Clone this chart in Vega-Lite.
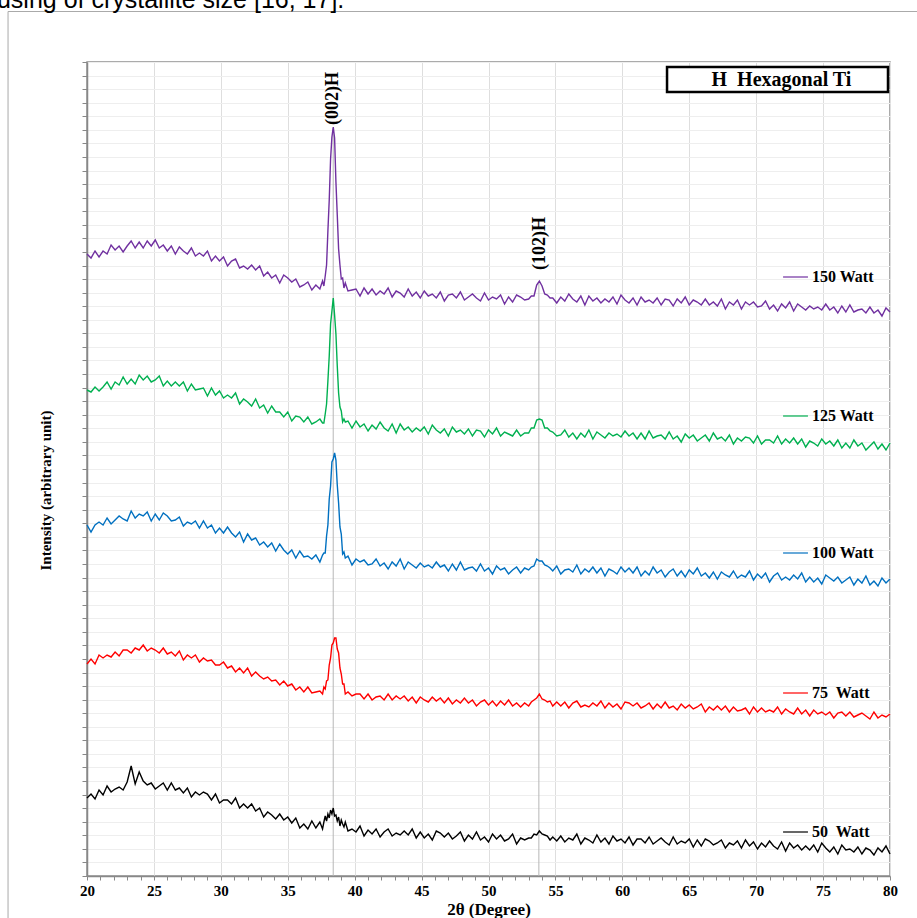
{
"$schema": "https://vega.github.io/schema/vega-lite/v6.json",
"width": 803,
"height": 814,
"autosize": {"type": "none"},
"padding": {"left": 87, "top": 62, "right": 27, "bottom": 42},
"background": "white",
"config": {"view": {"stroke": "#909090", "strokeWidth": 1.5}},
"resolve": {"axis": {"x": "independent", "y": "independent"}},
"layer": [
{
"data": {"values": [
{"fx1": 14.1, "fx2": 14.1, "fy1": -200, "fy2": 864.5},
{"fx1": 14.1, "fx2": 100, "fy1": 864.5, "fy2": 864.5}
]},
"mark": {"type": "rule", "color": "#aaaaaa", "strokeWidth": 1},
"encoding": {
"x": {"field": "fx1", "type": "quantitative", "axis": null},
"x2": {"field": "fx2"},
"y": {"field": "fy1", "type": "quantitative", "axis": null},
"y2": {"field": "fy2"}
}
},
{
"data": {"values": [{"t": "using of crystallite size [16, 17].", "tx": 13.27, "ty": 868.5}]},
"mark": {"type": "text", "align": "left", "baseline": "alphabetic", "font": "Liberation Sans", "fontSize": 25, "color": "#000000"},
"encoding": {
"x": {"field": "tx", "type": "quantitative", "axis": null},
"y": {"field": "ty", "type": "quantitative", "axis": null},
"text": {"field": "t", "type": "nominal"}
}
},
{
"data": {"values": [{"pos": 38.4, "bot": 0, "top": 749}, {"pos": 53.76, "bot": 0, "top": 594}]},
"mark": {"type": "rule", "color": "#b4b4b4", "strokeWidth": 1.2, "opacity": 0.8},
"encoding": {
"x": {"field": "pos", "type": "quantitative", "axis": null},
"y": {"field": "bot", "type": "quantitative", "axis": null},
"y2": {"field": "top"}
}
},
{
"data": {"values": [
{"x":20.0,"w150":622,"w125":486,"w100":351,"w75":212,"w50":78},
{"x":20.3,"w150":618,"w125":484,"w100":344,"w75":217,"w50":82},
{"x":20.6,"w150":625,"w125":489,"w100":351,"w75":212,"w50":77},
{"x":20.9,"w150":619,"w125":485,"w100":354,"w75":221,"w50":86},
{"x":21.2,"w150":625,"w125":489,"w100":351,"w75":218,"w50":81},
{"x":21.5,"w150":622,"w125":494,"w100":358,"w75":221,"w50":90},
{"x":21.8,"w150":631,"w125":487,"w100":352,"w75":219,"w50":84},
{"x":22.1,"w150":626,"w125":494,"w100":356,"w75":224,"w50":87},
{"x":22.4,"w150":630,"w125":491,"w100":360,"w75":220,"w50":89},
{"x":22.7,"w150":624,"w125":499,"w100":357,"w75":226,"w50":86},
{"x":23.0,"w150":630,"w125":492,"w100":355,"w75":226,"w50":94},
{"x":23.3,"w150":635,"w125":497,"w100":365,"w75":223,"w50":110},
{"x":23.6,"w150":628,"w125":492,"w100":358,"w75":228,"w50":92},
{"x":23.9,"w150":634,"w125":501,"w100":362,"w75":226,"w50":104},
{"x":24.2,"w150":628,"w125":496,"w100":360,"w75":231,"w50":95},
{"x":24.5,"w150":635,"w125":500,"w100":364,"w75":225,"w50":91},
{"x":24.8,"w150":630,"w125":494,"w100":355,"w75":228,"w50":93},
{"x":25.1,"w150":636,"w125":496,"w100":362,"w75":226,"w50":87},
{"x":25.4,"w150":628,"w125":500,"w100":356,"w75":223,"w50":90},
{"x":25.7,"w150":631,"w125":490,"w100":363,"w75":228,"w50":93},
{"x":26.0,"w150":625,"w125":495,"w100":360,"w75":222,"w50":86},
{"x":26.3,"w150":630,"w125":490,"w100":355,"w75":224,"w50":93},
{"x":26.6,"w150":622,"w125":494,"w100":356,"w75":220,"w50":86},
{"x":26.9,"w150":629,"w125":490,"w100":359,"w75":225,"w50":88},
{"x":27.2,"w150":625,"w125":494,"w100":350,"w75":216,"w50":83},
{"x":27.5,"w150":622,"w125":485,"w100":354,"w75":221,"w50":88},
{"x":27.8,"w150":628,"w125":492,"w100":352,"w75":218,"w50":79},
{"x":28.1,"w150":620,"w125":486,"w100":355,"w75":221,"w50":84},
{"x":28.4,"w150":623,"w125":487,"w100":348,"w75":214,"w50":81},
{"x":28.7,"w150":620,"w125":488,"w100":355,"w75":218,"w50":84},
{"x":29.0,"w150":625,"w125":480,"w100":348,"w75":215,"w50":82},
{"x":29.3,"w150":615,"w125":488,"w100":351,"w75":216,"w50":76},
{"x":29.6,"w150":620,"w125":481,"w100":343,"w75":211,"w50":82},
{"x":29.9,"w150":615,"w125":485,"w100":348,"w75":211,"w50":73},
{"x":30.2,"w150":619,"w125":478,"w100":343,"w75":214,"w50":76},
{"x":30.5,"w150":610,"w125":481,"w100":349,"w75":208,"w50":76},
{"x":30.8,"w150":615,"w125":478,"w100":343,"w75":210,"w50":72},
{"x":31.1,"w150":617,"w125":483,"w100":339,"w75":204,"w50":78},
{"x":31.4,"w150":608,"w125":472,"w100":344,"w75":208,"w50":68},
{"x":31.7,"w150":610,"w125":477,"w100":334,"w75":203,"w50":72},
{"x":32.0,"w150":607,"w125":474,"w100":342,"w75":208,"w50":68},
{"x":32.3,"w150":611,"w125":470,"w100":336,"w75":200,"w50":72},
{"x":32.6,"w150":606,"w125":477,"w100":338,"w75":204,"w50":65},
{"x":32.9,"w150":610,"w125":468,"w100":331,"w75":200,"w50":68},
{"x":33.2,"w150":600,"w125":471,"w100":334,"w75":197,"w50":59},
{"x":33.5,"w150":604,"w125":463,"w100":329,"w75":199,"w50":64},
{"x":33.8,"w150":598,"w125":470,"w100":333,"w75":195,"w50":61},
{"x":34.1,"w150":601,"w125":464,"w100":325,"w75":196,"w50":57},
{"x":34.4,"w150":593,"w125":464,"w100":332,"w75":191,"w50":62},
{"x":34.7,"w150":601,"w125":459,"w100":326,"w75":195,"w50":56},
{"x":35.0,"w150":598,"w125":464,"w100":322,"w75":190,"w50":59},
{"x":35.3,"w150":594,"w125":455,"w100":326,"w75":192,"w50":53},
{"x":35.6,"w150":597,"w125":460,"w100":318,"w75":186,"w50":58},
{"x":35.9,"w150":589,"w125":459,"w100":325,"w75":189,"w50":48},
{"x":36.2,"w150":591,"w125":454,"w100":319,"w75":184,"w50":52},
{"x":36.5,"w150":594,"w125":459,"w100":320,"w75":189,"w50":47},
{"x":36.8,"w150":586,"w125":452,"w100":317,"w75":183,"w50":55},
{"x":37.1,"w150":591,"w125":454,"w100":321,"w75":184,"w50":48},
{"x":37.4,"w150":587,"w125":457,"w100":314,"w75":185,"w50":54},
{"x":37.6,"w150":595,"w125":453,"w100":321,"w75":182,"w50":47},
{"x":37.7,"w150":590,"w125":453,"w100":323,"w75":189,"w50":54},
{"x":37.8,"w150":600,"w125":462,"w100":323,"w75":187,"w50":60},
{"x":37.9,"w150":611,"w125":472,"w100":340,"w75":195,"w50":55},
{"x":38.0,"w150":645,"w125":495,"w100":351,"w75":196,"w50":62},
{"x":38.1,"w150":676,"w125":520,"w100":377,"w75":211,"w50":58},
{"x":38.2,"w150":717,"w125":552,"w100":390,"w75":218,"w50":66},
{"x":38.3,"w150":739,"w125":565,"w100":414,"w75":231,"w50":62},
{"x":38.4,"w150":749,"w125":578,"w100":417,"w75":233,"w50":68},
{"x":38.5,"w150":738,"w125":561,"w100":423,"w75":238,"w50":60},
{"x":38.6,"w150":694,"w125":542,"w100":416,"w75":238,"w50":61},
{"x":38.7,"w150":661,"w125":510,"w100":391,"w75":227,"w50":55},
{"x":38.8,"w150":627,"w125":483,"w100":373,"w75":223,"w50":59},
{"x":38.9,"w150":611,"w125":469,"w100":349,"w75":208,"w50":50},
{"x":39.0,"w150":597,"w125":465,"w100":342,"w75":202,"w50":56},
{"x":39.1,"w150":598,"w125":454,"w100":322,"w75":192,"w50":52},
{"x":39.2,"w150":588,"w125":457,"w100":324,"w75":192,"w50":49},
{"x":39.3,"w150":593,"w125":454,"w100":318,"w75":182,"w50":54},
{"x":39.5,"w150":585,"w125":455,"w100":320,"w75":184,"w50":45},
{"x":39.8,"w150":586,"w125":448,"w100":311,"w75":180,"w50":47},
{"x":40.1,"w150":587,"w125":455,"w100":317,"w75":182,"w50":44},
{"x":40.4,"w150":580,"w125":449,"w100":314,"w75":182,"w50":50},
{"x":40.7,"w150":588,"w125":452,"w100":316,"w75":177,"w50":40},
{"x":41.0,"w150":582,"w125":445,"w100":311,"w75":182,"w50":46},
{"x":41.3,"w150":587,"w125":451,"w100":312,"w75":176,"w50":42},
{"x":41.6,"w150":581,"w125":447,"w100":317,"w75":179,"w50":47},
{"x":41.9,"w150":585,"w125":454,"w100":310,"w75":180,"w50":39},
{"x":42.2,"w150":582,"w125":448,"w100":313,"w75":176,"w50":44},
{"x":42.5,"w150":588,"w125":445,"w100":307,"w75":182,"w50":47},
{"x":42.8,"w150":579,"w125":452,"w100":314,"w75":176,"w50":40},
{"x":43.1,"w150":585,"w125":443,"w100":310,"w75":180,"w50":43},
{"x":43.4,"w150":583,"w125":452,"w100":317,"w75":177,"w50":41},
{"x":43.7,"w150":579,"w125":446,"w100":307,"w75":180,"w50":45},
{"x":44.0,"w150":587,"w125":449,"w100":314,"w75":175,"w50":41},
{"x":44.3,"w150":580,"w125":444,"w100":311,"w75":179,"w50":47},
{"x":44.6,"w150":584,"w125":448,"w100":308,"w75":173,"w50":38},
{"x":44.9,"w150":578,"w125":445,"w100":313,"w75":179,"w50":44},
{"x":45.2,"w150":585,"w125":449,"w100":309,"w75":176,"w50":38},
{"x":45.5,"w150":580,"w125":442,"w100":311,"w75":174,"w50":42},
{"x":45.8,"w150":582,"w125":451,"w100":308,"w75":179,"w50":36},
{"x":46.1,"w150":578,"w125":446,"w100":314,"w75":175,"w50":45},
{"x":46.4,"w150":584,"w125":443,"w100":309,"w75":178,"w50":43},
{"x":46.7,"w150":575,"w125":447,"w100":311,"w75":173,"w50":39},
{"x":47.0,"w150":581,"w125":440,"w100":305,"w75":178,"w50":43},
{"x":47.3,"w150":582,"w125":449,"w100":312,"w75":172,"w50":37},
{"x":47.6,"w150":578,"w125":444,"w100":306,"w75":176,"w50":40},
{"x":47.9,"w150":584,"w125":446,"w100":314,"w75":173,"w50":44},
{"x":48.2,"w150":576,"w125":442,"w100":306,"w75":178,"w50":35},
{"x":48.5,"w150":579,"w125":447,"w100":308,"w75":173,"w50":41},
{"x":48.8,"w150":582,"w125":440,"w100":309,"w75":176,"w50":37},
{"x":49.1,"w150":578,"w125":446,"w100":305,"w75":170,"w50":44},
{"x":49.4,"w150":575,"w125":445,"w100":312,"w75":174,"w50":36},
{"x":49.7,"w150":583,"w125":439,"w100":305,"w75":176,"w50":39},
{"x":50.0,"w150":576,"w125":446,"w100":308,"w75":171,"w50":34},
{"x":50.3,"w150":579,"w125":442,"w100":302,"w75":175,"w50":42},
{"x":50.6,"w150":577,"w125":448,"w100":310,"w75":170,"w50":37},
{"x":50.9,"w150":581,"w125":440,"w100":306,"w75":175,"w50":41},
{"x":51.2,"w150":572,"w125":444,"w100":308,"w75":171,"w50":35},
{"x":51.5,"w150":579,"w125":442,"w100":302,"w75":176,"w50":37},
{"x":51.8,"w150":574,"w125":440,"w100":306,"w75":170,"w50":42},
{"x":52.1,"w150":581,"w125":446,"w100":309,"w75":173,"w50":32},
{"x":52.4,"w150":579,"w125":440,"w100":303,"w75":169,"w50":38},
{"x":52.7,"w150":576,"w125":443,"w100":308,"w75":173,"w50":36},
{"x":53.0,"w150":577,"w125":443,"w100":306,"w75":170,"w50":38},
{"x":53.2,"w150":580,"w125":448,"w100":309,"w75":174,"w50":38},
{"x":53.4,"w150":580,"w125":448,"w100":310,"w75":176,"w50":42},
{"x":53.6,"w150":591,"w125":456,"w100":317,"w75":178,"w50":41},
{"x":53.8,"w150":595,"w125":457,"w100":315,"w75":182,"w50":45},
{"x":54.0,"w150":590,"w125":456,"w100":315,"w75":177,"w50":42},
{"x":54.2,"w150":582,"w125":448,"w100":311,"w75":176,"w50":41},
{"x":54.4,"w150":581,"w125":448,"w100":310,"w75":174,"w50":40},
{"x":54.6,"w150":578,"w125":445,"w100":308,"w75":175,"w50":36},
{"x":54.8,"w150":578,"w125":444,"w100":305,"w75":170,"w50":39},
{"x":55.1,"w150":573,"w125":440,"w100":310,"w75":174,"w50":35},
{"x":55.4,"w150":579,"w125":441,"w100":302,"w75":170,"w50":40},
{"x":55.7,"w150":575,"w125":446,"w100":306,"w75":174,"w50":34},
{"x":56.0,"w150":582,"w125":439,"w100":307,"w75":168,"w50":38},
{"x":56.3,"w150":577,"w125":443,"w100":304,"w75":173,"w50":36},
{"x":56.6,"w150":574,"w125":437,"w100":311,"w75":175,"w50":42},
{"x":56.9,"w150":580,"w125":443,"w100":302,"w75":169,"w50":32},
{"x":57.2,"w150":571,"w125":439,"w100":307,"w75":171,"w50":38},
{"x":57.5,"w150":580,"w125":446,"w100":304,"w75":169,"w50":36},
{"x":57.8,"w150":575,"w125":437,"w100":309,"w75":173,"w50":33},
{"x":58.1,"w150":578,"w125":444,"w100":303,"w75":170,"w50":41},
{"x":58.4,"w150":573,"w125":441,"w100":308,"w75":175,"w50":34},
{"x":58.7,"w150":577,"w125":438,"w100":300,"w75":168,"w50":38},
{"x":59.0,"w150":574,"w125":443,"w100":307,"w75":173,"w50":32},
{"x":59.3,"w150":579,"w125":440,"w100":305,"w75":169,"w50":40},
{"x":59.6,"w150":572,"w125":442,"w100":302,"w75":172,"w50":35},
{"x":59.9,"w150":581,"w125":439,"w100":309,"w75":167,"w50":37},
{"x":60.2,"w150":576,"w125":445,"w100":304,"w75":174,"w50":33},
{"x":60.5,"w150":573,"w125":440,"w100":308,"w75":173,"w50":39},
{"x":60.8,"w150":578,"w125":443,"w100":303,"w75":170,"w50":31},
{"x":61.1,"w150":571,"w125":437,"w100":309,"w75":173,"w50":37},
{"x":61.4,"w150":579,"w125":443,"w100":300,"w75":168,"w50":37},
{"x":61.7,"w150":574,"w125":437,"w100":305,"w75":170,"w50":33},
{"x":62.0,"w150":576,"w125":445,"w100":301,"w75":173,"w50":39},
{"x":62.3,"w150":573,"w125":438,"w100":309,"w75":167,"w50":32},
{"x":62.6,"w150":578,"w125":440,"w100":303,"w75":172,"w50":35},
{"x":62.9,"w150":571,"w125":441,"w100":306,"w75":168,"w50":38},
{"x":63.2,"w150":577,"w125":437,"w100":299,"w75":174,"w50":34},
{"x":63.5,"w150":576,"w125":444,"w100":304,"w75":168,"w50":31},
{"x":63.8,"w150":570,"w125":437,"w100":307,"w75":170,"w50":39},
{"x":64.1,"w150":577,"w125":440,"w100":300,"w75":166,"w50":32},
{"x":64.4,"w150":573,"w125":434,"w100":305,"w75":172,"w50":35},
{"x":64.7,"w150":579,"w125":442,"w100":299,"w75":168,"w50":33},
{"x":65.0,"w150":571,"w125":438,"w100":306,"w75":171,"w50":37},
{"x":65.3,"w150":576,"w125":441,"w100":302,"w75":167,"w50":29},
{"x":65.6,"w150":574,"w125":435,"w100":308,"w75":169,"w50":36},
{"x":65.9,"w150":571,"w125":438,"w100":300,"w75":172,"w50":30},
{"x":66.2,"w150":577,"w125":441,"w100":303,"w75":164,"w50":37},
{"x":66.5,"w150":571,"w125":435,"w100":298,"w75":169,"w50":35},
{"x":66.8,"w150":574,"w125":443,"w100":304,"w75":166,"w50":31},
{"x":67.1,"w150":570,"w125":437,"w100":297,"w75":170,"w50":33},
{"x":67.4,"w150":577,"w125":439,"w100":304,"w75":166,"w50":36},
{"x":67.7,"w150":567,"w125":435,"w100":301,"w75":170,"w50":28},
{"x":68.0,"w150":574,"w125":441,"w100":299,"w75":164,"w50":33},
{"x":68.3,"w150":571,"w125":432,"w100":305,"w75":169,"w50":31},
{"x":68.6,"w150":576,"w125":438,"w100":298,"w75":165,"w50":35},
{"x":68.9,"w150":567,"w125":435,"w100":301,"w75":166,"w50":28},
{"x":69.2,"w150":574,"w125":439,"w100":299,"w75":168,"w50":36},
{"x":69.5,"w150":571,"w125":438,"w100":305,"w75":162,"w50":30},
{"x":69.8,"w150":574,"w125":433,"w100":296,"w75":169,"w50":34},
{"x":70.1,"w150":569,"w125":440,"w100":302,"w75":164,"w50":27},
{"x":70.4,"w150":570,"w125":432,"w100":298,"w75":168,"w50":33},
{"x":70.7,"w150":575,"w125":436,"w100":303,"w75":164,"w50":29},
{"x":71.0,"w150":567,"w125":436,"w100":294,"w75":166,"w50":35},
{"x":71.3,"w150":571,"w125":433,"w100":300,"w75":164,"w50":30},
{"x":71.6,"w150":565,"w125":440,"w100":303,"w75":169,"w50":27},
{"x":71.9,"w150":572,"w125":432,"w100":296,"w75":162,"w50":34},
{"x":72.2,"w150":568,"w125":437,"w100":299,"w75":167,"w50":25},
{"x":72.5,"w150":574,"w125":433,"w100":296,"w75":164,"w50":33},
{"x":72.8,"w150":565,"w125":438,"w100":301,"w75":162,"w50":28},
{"x":73.1,"w150":572,"w125":432,"w100":297,"w75":168,"w50":31},
{"x":73.4,"w150":569,"w125":437,"w100":303,"w75":162,"w50":26},
{"x":73.7,"w150":566,"w125":429,"w100":294,"w75":166,"w50":30},
{"x":74.0,"w150":570,"w125":435,"w100":299,"w75":160,"w50":26},
{"x":74.3,"w150":567,"w125":433,"w100":294,"w75":166,"w50":31},
{"x":74.6,"w150":569,"w125":430,"w100":298,"w75":162,"w50":24},
{"x":74.9,"w150":566,"w125":437,"w100":292,"w75":164,"w50":33},
{"x":75.2,"w150":572,"w125":432,"w100":301,"w75":161,"w50":28},
{"x":75.5,"w150":566,"w125":435,"w100":298,"w75":164,"w50":24},
{"x":75.8,"w150":569,"w125":430,"w100":295,"w75":158,"w50":29},
{"x":76.1,"w150":563,"w125":436,"w100":299,"w75":163,"w50":22},
{"x":76.4,"w150":570,"w125":428,"w100":293,"w75":164,"w50":31},
{"x":76.7,"w150":564,"w125":433,"w100":296,"w75":160,"w50":26},
{"x":77.0,"w150":571,"w125":428,"w100":299,"w75":164,"w50":27},
{"x":77.3,"w150":564,"w125":436,"w100":291,"w75":159,"w50":24},
{"x":77.6,"w150":566,"w125":430,"w100":297,"w75":161,"w50":29},
{"x":77.9,"w150":567,"w125":433,"w100":293,"w75":163,"w50":22},
{"x":78.2,"w150":563,"w125":426,"w100":300,"w75":160,"w50":28},
{"x":78.5,"w150":569,"w125":430,"w100":291,"w75":157,"w50":26},
{"x":78.8,"w150":563,"w125":434,"w100":295,"w75":164,"w50":21},
{"x":79.1,"w150":566,"w125":427,"w100":290,"w75":158,"w50":28},
{"x":79.4,"w150":560,"w125":432,"w100":298,"w75":161,"w50":24},
{"x":79.7,"w150":568,"w125":426,"w100":293,"w75":159,"w50":30},
{"x":80.0,"w150":564,"w125":433,"w100":297,"w75":162,"w50":22}
]},
"transform": [{"fold": ["w150", "w125", "w100", "w75", "w50"], "as": ["series", "y"]}],
"mark": {"type": "line", "strokeWidth": 1.4},
"encoding": {
"x": {"field": "x", "type": "quantitative",
"scale": {"domain": [20, 80], "nice": false, "zero": false},
"axis": {
"title": "2θ (Degree)",
"values": [20,21,22,23,24,25,26,27,28,29,30,31,32,33,34,35,36,37,38,39,40,41,42,43,44,45,46,47,48,49,50,51,52,53,54,55,56,57,58,59,60,61,62,63,64,65,66,67,68,69,70,71,72,73,74,75,76,77,78,79,80],
"labelExpr": "datum.value % 5 === 0 ? datum.label : ''",
"labelOverlap": false,
"labelFlush": false,
"labelFont": "Liberation Serif", "labelFontWeight": "bold", "labelFontSize": 15, "labelColor": "#000000", "labelPadding": 3,
"tickSize": 4, "tickColor": "#888888", "tickWidth": 1,
"domainColor": "#888888", "domainWidth": 1.5,
"grid": true, "gridColor": "#dedede",
"gridOpacity": {"condition": {"test": "datum.value % 5 === 0", "value": 1}, "value": 0},
"titleFont": "Liberation Serif", "titleFontWeight": "bold", "titleFontSize": 17, "titleColor": "#000000",
"titleBaseline": "alphabetic", "titleY": 38
}
},
"y": {"field": "y", "type": "quantitative",
"scale": {"domain": [0, 814], "nice": false, "zero": false},
"axis": {
"title": "Intensity (arbitrary unit)",
"values": [0,13.57,27.13,40.7,54.27,67.83,81.4,94.97,108.53,122.1,135.67,149.23,162.8,176.37,189.93,203.5,217.07,230.63,244.2,257.77,271.33,284.9,298.47,312.03,325.6,339.17,352.73,366.3,379.87,393.43,407,420.57,434.13,447.7,461.27,474.83,488.4,501.97,515.53,529.1,542.67,556.23,569.8,583.37,596.93,610.5,624.07,637.63,651.2,664.77,678.33,691.9,705.47,719.03,732.6,746.17,759.73,773.3,786.87,800.43,814],
"labels": false,
"tickSize": 5, "tickColor": "#888888",
"domainColor": "#888888", "domainWidth": 1.5,
"grid": true, "gridColor": "#eeeeee",
"titleFont": "Liberation Serif", "titleFontWeight": "bold", "titleFontSize": 15, "titleColor": "#000000",
"titleAngle": 270, "titleBaseline": "alphabetic", "titleAlign": "center", "titleX": -37, "titleY": 428
}
},
"color": {"field": "series", "type": "nominal",
"scale": {"domain": ["w150", "w125", "w100", "w75", "w50"], "range": ["#7030A0", "#00B050", "#0070C0", "#FF0000", "#000000"]},
"legend": null}
}
},
{
"data": {"values": [
{"series": "w150", "ly": 599, "lx1": 72.01, "lx2": 73.87},
{"series": "w125", "ly": 460, "lx1": 72.01, "lx2": 73.87},
{"series": "w100", "ly": 323, "lx1": 72.01, "lx2": 73.87},
{"series": "w75", "ly": 183, "lx1": 72.01, "lx2": 73.87},
{"series": "w50", "ly": 44, "lx1": 72.01, "lx2": 73.87}
]},
"mark": {"type": "rule", "strokeWidth": 1.2},
"encoding": {
"x": {"field": "lx1", "type": "quantitative", "axis": null},
"x2": {"field": "lx2"},
"y": {"field": "ly", "type": "quantitative", "axis": null},
"color": {"field": "series", "type": "nominal", "legend": null}
}
},
{
"data": {"values": [
{"label": "150 Watt", "ly": 599, "tx": 74.17},
{"label": "125 Watt", "ly": 460, "tx": 74.17},
{"label": "100 Watt", "ly": 323, "tx": 74.17},
{"label": "75\u00a0 Watt", "ly": 183, "tx": 74.17},
{"label": "50\u00a0 Watt", "ly": 44, "tx": 74.17}
]},
"mark": {"type": "text", "align": "left", "baseline": "middle", "font": "Liberation Serif", "fontWeight": "bold", "fontSize": 16, "color": "#000000"},
"encoding": {
"x": {"field": "tx", "type": "quantitative", "axis": null},
"y": {"field": "ly", "type": "quantitative", "axis": null},
"text": {"field": "label", "type": "nominal"}
}
},
{
"data": {"values": [{"label": "(002)H", "px": 38.4, "py": 751}, {"label": "(102)H", "px": 53.85, "py": 606}]},
"mark": {"type": "text", "angle": 270, "align": "left", "baseline": "middle", "font": "Liberation Serif", "fontWeight": "bold", "fontSize": 18, "color": "#000000"},
"encoding": {
"x": {"field": "px", "type": "quantitative", "axis": null},
"y": {"field": "py", "type": "quantitative", "axis": null},
"text": {"field": "label", "type": "nominal"}
}
},
{
"data": {"values": [{"bx1": 63.34, "bx2": 79.85, "by1": 784, "by2": 809}]},
"mark": {"type": "rect", "fill": "#ffffff", "stroke": "#000000", "strokeWidth": 2.5},
"encoding": {
"x": {"field": "bx1", "type": "quantitative", "axis": null},
"x2": {"field": "bx2"},
"y": {"field": "by1", "type": "quantitative", "axis": null},
"y2": {"field": "by2"}
}
},
{
"data": {"values": [{"t": "H\u00a0 Hexagonal Ti", "tx": 71.89, "ty": 796}]},
"mark": {"type": "text", "align": "center", "baseline": "middle", "font": "Liberation Serif", "fontWeight": "bold", "fontSize": 20, "color": "#000000"},
"encoding": {
"x": {"field": "tx", "type": "quantitative", "axis": null},
"y": {"field": "ty", "type": "quantitative", "axis": null},
"text": {"field": "t", "type": "nominal"}
}
}
]
}
